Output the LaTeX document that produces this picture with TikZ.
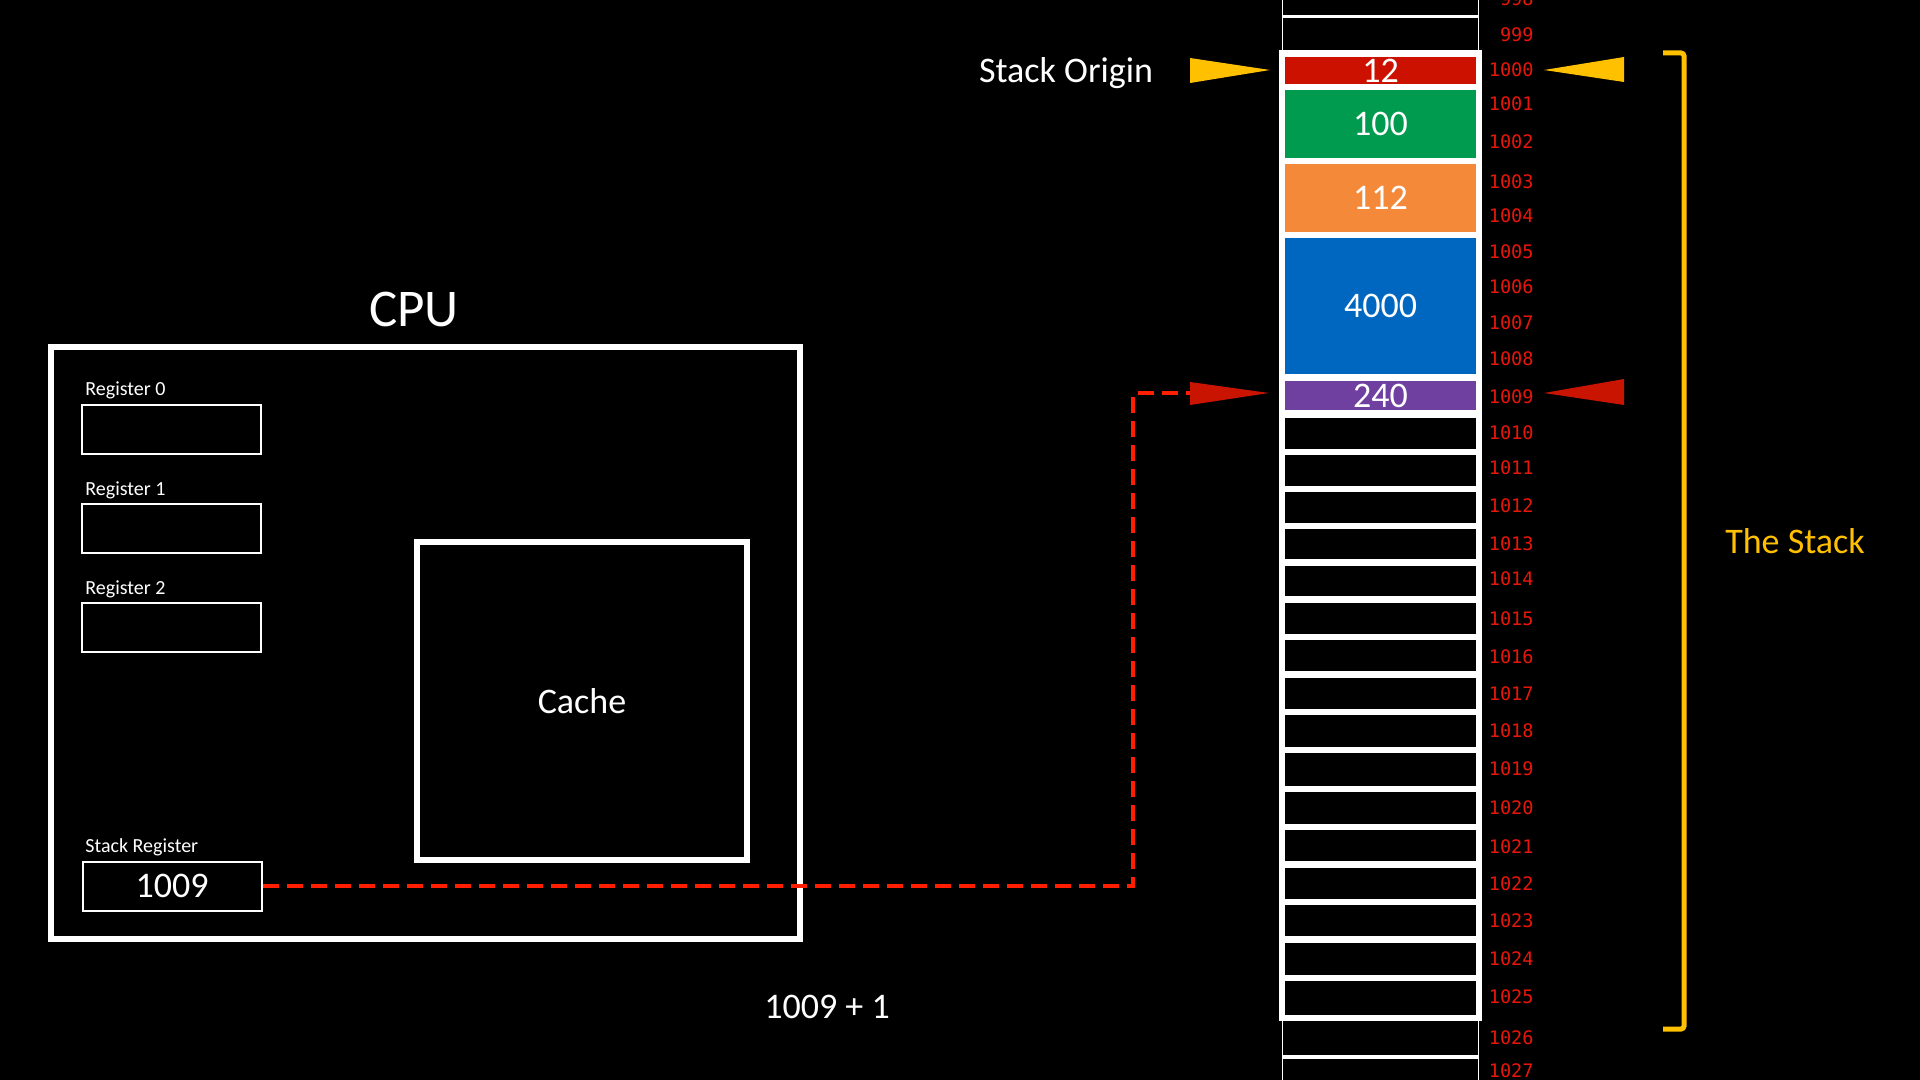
\documentclass[tikz,border=0pt]{standalone}
\usepackage{fontspec}
\setmainfont{Carlito}
\newfontfamily\monof{DejaVu Sans Mono}
\definecolor{cellred}{HTML}{CC1100}
\definecolor{cellgreen}{HTML}{009B4F}
\definecolor{cellorange}{HTML}{F4893A}
\definecolor{cellblue}{HTML}{0067C0}
\definecolor{cellpurple}{HTML}{7040A0}
\definecolor{addrred}{HTML}{E8160A}
\definecolor{dashred}{HTML}{FF1E00}
\definecolor{arrowred}{HTML}{C81400}
\definecolor{gold}{HTML}{FFC000}
\begin{document}
\begin{tikzpicture}[x=0.5pt,y=-0.5pt,
  txt/.style={text=white, inner sep=0pt},
  small/.style={txt, font=\fontsize{10}{12}\selectfont, anchor=base west},
  big/.style={txt, font=\fontsize{18}{20}\selectfont},
  regbox/.style={draw=white, line width=1pt, minimum width=89.5pt, minimum height=24.5pt, inner sep=0pt},
  thickbox/.style={draw=white, line width=3pt, inner sep=0pt},
  cellbox/.style={rectangle, inner sep=0pt, minimum width=95.5pt, text=white, font=\fontsize{18}{20}\selectfont},
  thincell/.style={draw=white, line width=0.8pt},
  addr/.style={text=addrred, inner sep=0pt, anchor=east, font=\monof\fontsize{9.3}{11}\selectfont},
  dashline/.style={draw=dashred, line width=2.4pt, dash pattern=on 8pt off 4pt}
]
\fill[black] (0,0) rectangle (1920,1080);
\useasboundingbox (0,0) rectangle (1920,1080);

% ---------- CPU ----------
\node[big, font=\fontsize{26.5}{30}\selectfont, anchor=base] (cputitle) at (414,327) {CPU};
\node[thickbox, minimum width=374.5pt, minimum height=296pt] (cpu) at (425.5,643) {};
\node[thickbox, minimum width=165pt, minimum height=159pt, text=white, font=\fontsize{18}{20}\selectfont] (cache) at (582,701) {Cache};

\node[small] (l0) at (85,395.5) {Register 0};
\node[regbox] (r0) at (171.5,429.5) {};
\node[small] (l1) at (85,495) {Register 1};
\node[regbox] (r1) at (171.5,528) {};
\node[small] (l2) at (85,594) {Register 2};
\node[regbox] (r2) at (171.5,627) {};
\node[small] (lsr) at (85,852.5) {Stack Register};
\node[regbox, text=white, font=\fontsize{18}{20}\selectfont] (sr) at (172,886) {1009};

\node[big, anchor=base] (plus) at (827,1018) {1009 + 1};

% ---------- memory column ----------
\draw[thincell] (1282.5,-40) rectangle (1478.5,16);
\draw[thincell] (1282.5,17.5) rectangle (1478.5,55);
\draw[thincell] (1282.5,1016) rectangle (1478.5,1056);
\draw[thincell] (1282.5,1058) rectangle (1478.5,1120);

\node[fill=white, inner sep=0pt, minimum width=101.5pt, minimum height=485.5pt] (frame) at (1380.5,535.5) {};

\node[cellbox, fill=cellred, minimum height=13.5pt] (c1000) at (1380.5,70.5) {12};
\node[cellbox, fill=cellgreen, minimum height=34pt] (c1001) at (1380.5,124) {100};
\node[cellbox, fill=cellorange, minimum height=34pt] (c1003) at (1380.5,198) {112};
\node[cellbox, fill=cellblue, minimum height=68pt] (c1005) at (1380.5,306) {4000};
\node[cellbox, fill=cellpurple, minimum height=14.5pt] (c1009) at (1380.5,395.5) {240};

\foreach \t/\b [count=\i] in {418/449,455/486,492/523,529/559,566/596,603/634,640/671,678/709,715/747,753/786,792/824,830/861,868/899,905/936,943/975,981/1015}{
  \node[cellbox, fill=black, minimum height={(\b-\t)*0.5pt}] (e\i) at (1380.5,{(\t+\b)/2}) {};
}

% addresses
\foreach \a/\y in {998/-1,999/35,1000/70,1001/104,1002/142,1003/182,1004/216,1005/252,1006/287,1007/323,1008/359,1009/397,1010/433,1011/468,1012/506,1013/544,1014/579,1015/619,1016/657,1017/694,1018/731,1019/769,1020/808,1021/847,1022/884,1023/921,1024/959,1025/997,1026/1038,1027/1071}{
  \node[addr] (a\a) at (1534,\y) {\a};
}

% ---------- Stack origin ----------
\node[big, anchor=base] (origin) at (1066,83) {Stack Origin};
\fill[gold] (1190,58) -- (1270,70) -- (1190,83) -- cycle;
\fill[gold] (1544,70) -- (1624,57) -- (1624,82) -- cycle;

% ---------- pointer ----------
\coordinate (bend) at (1133,393);
\coordinate (tail) at (1190,393);
\draw[dashline] (sr.east) -| (bend) -- (tail);
\fill[arrowred] (1190,382) -- (1269,393) -- (1190,405) -- cycle;
\fill[arrowred] (1544,393) -- (1624,379) -- (1624,405) -- cycle;

% ---------- bracket ----------
\draw[gold, line width=2.5pt, rounded corners=1.5pt] (1663,53) -- (1684,53) -- (1684,1029) -- (1663,1029);
\node[txt, text=gold, font=\fontsize{18}{20}\selectfont, anchor=base] (stacklbl) at (1795,553) {The Stack};
\end{tikzpicture}
\end{document}
